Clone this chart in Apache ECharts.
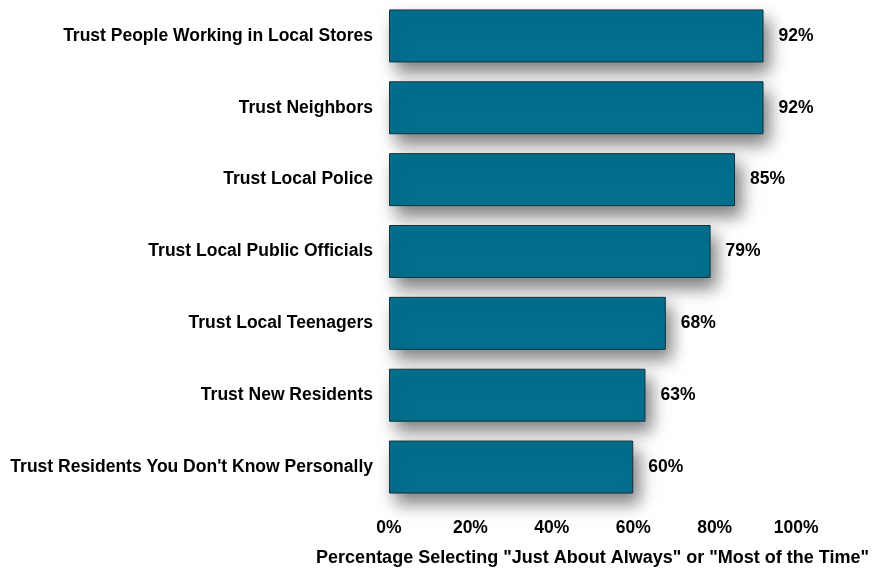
<!DOCTYPE html>
<html><head><meta charset="utf-8">
<script src="https://cdn.jsdelivr.net/npm/echarts@6/dist/echarts.min.js"></script>
<style>html,body{margin:0;padding:0;background:#fff}#c{width:872px;height:572px}</style>
</head><body><div id="c"></div>
<script>
const categories = [
  "Trust People Working in Local Stores",
  "Trust Neighbors",
  "Trust Local Police",
  "Trust Local Public Officials",
  "Trust Local Teenagers",
  "Trust New Residents",
  "Trust Residents You Don't Know Personally"
];
const values = [92, 92, 85, 79, 68, 63, 60];
const tickLabels = ["0%", "20%", "40%", "60%", "80%", "100%"];
const axisTitle = 'Percentage Selecting "Just About Always" or "Most of the Time"';

const font = 'Liberation Sans, Arial, sans-serif';
const chart = echarts.init(document.getElementById('c'), null, {renderer: 'canvas'});
chart.setOption({
  animation: false,
  grid: {left: 389, right: 75, top: 0, height: 503, containLabel: false},
  xAxis: {
    type: 'value', min: 0, max: 100, interval: 20,
    axisLine: {show: false}, axisTick: {show: false}, splitLine: {show: false},
    axisLabel: {
      formatter: v => tickLabels[v / 20],
      color: '#000', fontFamily: font, fontWeight: 'bold', fontSize: 17.5, margin: 16
    },
    name: axisTitle, nameLocation: 'middle', nameGap: 46,
    nameTextStyle: {color: '#000', fontFamily: font, fontWeight: 'bold', fontSize: 18}
  },
  yAxis: {
    type: 'category', inverse: true, data: categories,
    axisLine: {show: false}, axisTick: {show: false}, splitLine: {show: false},
    axisLabel: {color: '#000', fontFamily: font, fontWeight: 'bold', fontSize: 17.5, margin: 16}
  },
  series: [{
    type: 'bar', data: values, barWidth: 53,
    itemStyle: {
      color: '#02708E', borderColor: '#14323d', borderWidth: 1,
      shadowColor: 'rgba(0,0,0,0.5)', shadowBlur: 16, shadowOffsetX: 6, shadowOffsetY: 10
    },
    label: {
      show: true, position: 'right', distance: 15, formatter: '{c}%',
      color: '#000', fontFamily: font, fontWeight: 'bold', fontSize: 17.5
    }
  }]
});
</script></body></html>
